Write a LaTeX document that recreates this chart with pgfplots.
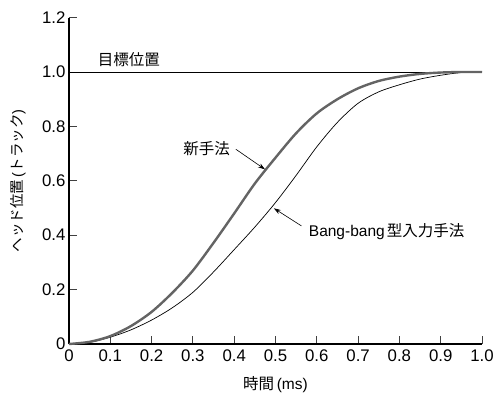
\documentclass[border=0pt]{standalone}
\usepackage{pgfplots}
\pgfplotsset{compat=1.18}
\usepackage{fontspec}
\setmainfont{Liberation Sans}
\newfontfamily\cjk{Noto Sans CJK JP}
\usetikzlibrary{arrows.meta}
\definecolor{thickgray}{RGB}{100,100,100}
\begin{document}
\begin{tikzpicture}
\useasboundingbox (-69pt,-53pt) rectangle (427pt,344pt);
\begin{axis}[
  scale only axis,
  width=413pt, height=326.4pt,
  xmin=0, xmax=1.0, ymin=0, ymax=1.2,
  axis lines=left,
  axis line style={-, line width=1.2pt, black},
  tick align=inside,
  major tick length=8pt,
  tick style={line width=0.8pt, black!75},
  /pgf/number format/assume math mode=true,
  xtick={0,0.1,0.2,0.3,0.4,0.5,0.6,0.7,0.8,0.9,1.0},
  xticklabels={0,0.1,0.2,0.3,0.4,0.5,0.6,0.7,0.8,0.9,1.0},
  ytick={0,0.2,0.4,0.6,0.8,1.0,1.2},
  yticklabels={0,0.2,0.4,0.6,0.8,1.0,1.2},
  xticklabel style={font=\fontsize{16.8}{19}\selectfont, yshift=-2.5pt},
  yticklabel style={font=\fontsize{16.8}{19}\selectfont, xshift=0pt},
  xlabel={{\cjk 時間}\,(ms)},
  ylabel={{\cjk ヘッド位置}\,({\cjk トラック})},
  xlabel style={font=\fontsize{15.5}{17}\selectfont, at={(axis description cs:0.5,0)}, anchor=center, yshift=-41pt},
  ylabel style={font=\fontsize{14.5}{16}\selectfont, at={(axis description cs:0,0.5)}, anchor=center, yshift=51pt},
  clip=false,
]
% target line
\addplot[black, line width=1pt] coordinates {(0,1.0) (1.0,1.0)};
% Bang-bang (thin)
\addplot[black, line width=0.7pt, smooth] coordinates {
(0,0) (0.05,0.006) (0.1,0.025) (0.15,0.052) (0.2,0.088) (0.25,0.133) (0.3,0.19)
(0.35,0.265) (0.4,0.347) (0.45,0.43) (0.5,0.52) (0.55,0.62) (0.6,0.725) (0.65,0.815)
(0.7,0.885) (0.75,0.927) (0.8,0.953) (0.85,0.974) (0.9,0.988) (0.95,0.998) (1.0,1.0)};
% new method (thick)
\addplot[thickgray, line width=2.4pt, smooth] coordinates {
(0,0) (0.05,0.008) (0.1,0.029) (0.15,0.066) (0.2,0.118) (0.25,0.188) (0.3,0.27)
(0.35,0.372) (0.4,0.48) (0.45,0.59) (0.5,0.685) (0.55,0.775) (0.6,0.848) (0.65,0.9)
(0.7,0.94) (0.75,0.967) (0.8,0.983) (0.85,0.993) (0.9,0.998) (0.95,1.0) (1.0,1.0)};
\node[font=\fontsize{15.5}{17}\selectfont\cjk] at (axis cs:0.145,1.044) {目標位置};
\node[font=\fontsize{15.5}{17}\selectfont\cjk] at (axis cs:0.333,0.719) {新手法};
\draw[-{Stealth[length=7pt,width=4.5pt]}, line width=0.6pt] (axis cs:0.404,0.716) -- (axis cs:0.4746,0.642);
\node[font=\fontsize{15.5}{17}\selectfont] at (axis cs:0.769,0.414) {Bang-bang\hspace{2pt}{\cjk 型入力手法}};
\draw[-{Stealth[length=7pt,width=4.5pt]}, line width=0.6pt] (axis cs:0.563,0.434) -- (axis cs:0.496,0.499);
\end{axis}
\end{tikzpicture}
\end{document}
